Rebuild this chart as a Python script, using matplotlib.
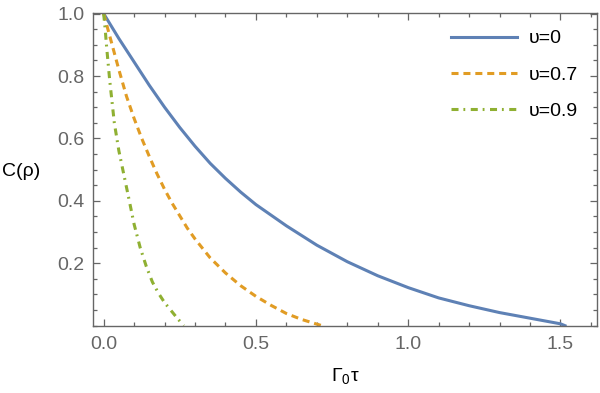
import matplotlib
matplotlib.use('Agg')
import matplotlib.pyplot as plt
from matplotlib.ticker import MultipleLocator, FixedLocator, FormatStrFormatter

plt.rcParams['font.family'] = ['Liberation Sans', 'DejaVu Sans']
plt.rcParams['mathtext.fontset'] = 'custom'
plt.rcParams['mathtext.rm'] = 'Liberation Sans'

# values
t0 = [0, 0.05, 0.1, 0.15, 0.2, 0.25, 0.3, 0.35, 0.4, 0.45, 0.5, 0.6, 0.7,
      0.8, 0.9, 1.0, 1.1, 1.2, 1.3, 1.4, 1.5, 1.515]
c0 = [1.0, 0.92, 0.845, 0.77, 0.70, 0.635, 0.575, 0.52, 0.472, 0.428, 0.388,
      0.32, 0.258, 0.205, 0.16, 0.122, 0.089, 0.064, 0.042, 0.024, 0.006, 0.0]

t07 = [0, 0.025, 0.05, 0.075, 0.1, 0.125, 0.15, 0.175, 0.2, 0.225, 0.25,
       0.275, 0.3, 0.35, 0.4, 0.45, 0.5, 0.55, 0.6, 0.65, 0.7, 0.717]
c07 = [1.0, 0.91, 0.82, 0.735, 0.664, 0.60, 0.542, 0.487, 0.437, 0.392,
       0.352, 0.312, 0.278, 0.217, 0.169, 0.128, 0.094, 0.065, 0.039, 0.02,
       0.005, 0.0]

t09 = [0, 0.005, 0.01, 0.02, 0.035, 0.05, 0.065, 0.08, 0.1, 0.12, 0.14, 0.16,
       0.18, 0.2, 0.22, 0.24, 0.263]
c09 = [1.0, 0.95, 0.89, 0.785, 0.65, 0.56, 0.49, 0.42, 0.325, 0.25, 0.19,
       0.14, 0.104, 0.074, 0.05, 0.026, 0.0]

labels = ['υ=0', 'υ=0.7', 'υ=0.9']
colors = ['#5E81B5', '#E19C24', '#8FB032']


def main():
    fig = plt.figure(figsize=(6, 3.93), dpi=100)
    ax = fig.add_axes([0.155, 0.1705, 0.84, 0.7965])

    lw = 2.2
    ax.plot(t0, c0, color=colors[0], lw=lw, label=labels[0])
    ax.plot(t07, c07, color=colors[1], lw=lw, dashes=(2.3, 1.6), label=labels[1])
    ax.plot(t09, c09, color=colors[2], lw=lw, dashes=(2.3, 1.6, 0.6, 1.8),
            label=labels[2])

    ax.set_xlim(-0.035, 1.62)
    ax.set_ylim(-0.001, 1.002)

    ax.xaxis.set_major_locator(FixedLocator([0.0, 0.5, 1.0, 1.5]))
    ax.xaxis.set_minor_locator(MultipleLocator(0.1))
    ax.yaxis.set_major_locator(FixedLocator([0.2, 0.4, 0.6, 0.8, 1.0]))
    ax.yaxis.set_minor_locator(MultipleLocator(0.05))
    ax.xaxis.set_major_formatter(FormatStrFormatter('%.1f'))
    ax.yaxis.set_major_formatter(FormatStrFormatter('%.1f'))

    gray = '#666666'
    for s in ax.spines.values():
        s.set_color(gray)
        s.set_linewidth(1.0)
    ax.tick_params(which='both', direction='in', top=True, right=True,
                   color=gray, labelcolor=gray, labelsize=14, width=0.9)
    ax.tick_params(which='major', length=5)
    ax.tick_params(which='minor', length=3)
    ax.tick_params(axis='x', pad=7)
    ax.tick_params(axis='y', pad=6)

    ax.set_xlabel('Γ$_\\mathregular{0}$τ', fontsize=14, color='black',
                  va='center')
    ax.xaxis.set_label_coords(0.5, -0.163)
    ax.set_ylabel('C(ρ)', fontsize=14, color='black', rotation=0,
                  ha='center', va='center')
    ax.yaxis.set_label_coords(-0.143, 0.492)

    ax.legend(loc='upper right', frameon=False, fontsize=14,
              handlelength=3.4, handletextpad=0.6, labelspacing=0.97,
              borderaxespad=0.3, bbox_to_anchor=(0.99, 0.99))

    fig.savefig('out.png', dpi=100)


if __name__ == '__main__':
    main()
